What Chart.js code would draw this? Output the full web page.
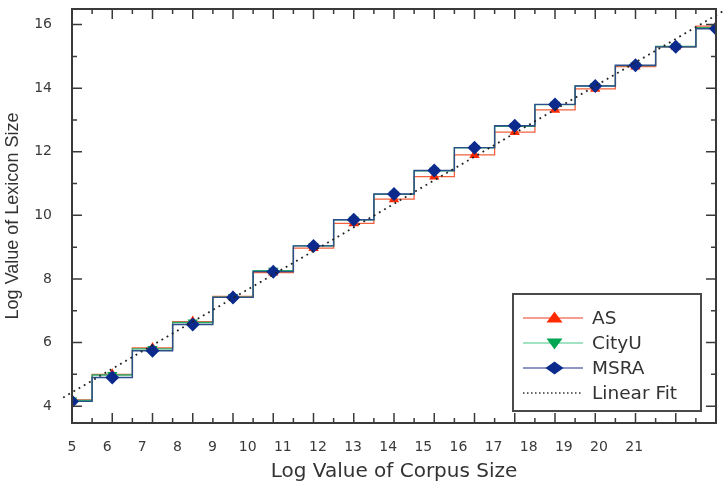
<!DOCTYPE html>
<html>
<head>
<meta charset="utf-8">
<title>Lexicon size vs corpus size</title>
<script src="https://cdn.jsdelivr.net/npm/chart.js@4.4.1/dist/chart.umd.min.js"></script>
<style>
  html, body { margin: 0; padding: 0; background: #fff; }
  #wrap { width: 727px; height: 488px; }
</style>
</head>
<body>
<div id="wrap"><canvas id="lexChart" width="727" height="488"></canvas></div>
<script>
// log corpus size (one point per step)
const corpusLog = [5, 6, 7, 8, 9, 10, 11, 12, 13, 14, 15, 16, 17, 18, 19, 20, 21];
const asValues = [4.2, 5.0, 5.83, 6.66, 7.45, 8.2, 8.97, 9.75, 10.51, 11.22, 11.9, 12.62, 13.32, 13.98, 14.68, 15.3, 15.95];
const cityuValues = [4.18, 4.98, 5.8, 6.63, 7.43, 8.26, 9.04, 9.86, 10.66, 11.4, 12.12, 12.8, 13.48, 14.07, 14.71, 15.31, 15.9];
const msraValues = [4.15, 4.9, 5.74, 6.57, 7.42, 8.23, 9.04, 9.86, 10.67, 11.41, 12.13, 12.82, 13.49, 14.07, 14.72, 15.3, 15.87];
// end points of the fitted line (it runs a little past the frame)
const fitX = [4.78, 21.24];
const fitY = [4.27, 16.47];
// tick labels as printed on the axes
const xTickLabels = [5, 6, 7, 8, 9, 10, 11, 12, 13, 14, 15, 16, 17, 18, 19, 20, 21];
const yTickLabels = [4, 6, 8, 10, 12, 14, 16];

const toPoints = (xs, ys) => xs.map((x, i) => ({ x: x, y: ys[i] }));

// draws one legend symbol by hand (stretched a bit like the original)
function drawSymbol(ctx, style, x, y, color) {
  ctx.fillStyle = color;
  ctx.beginPath();
  if (style === "up") {
    ctx.moveTo(x, y - 6.5);
    ctx.lineTo(x + 8, y + 4.5);
    ctx.lineTo(x - 8, y + 4.5);
  } else if (style === "down") {
    ctx.moveTo(x, y + 6.5);
    ctx.lineTo(x + 8, y - 4.5);
    ctx.lineTo(x - 8, y - 4.5);
  } else {
    ctx.moveTo(x, y - 6.5);
    ctx.lineTo(x + 9, y);
    ctx.lineTo(x, y + 6.5);
    ctx.lineTo(x - 9, y);
  }
  ctx.closePath();
  ctx.fill();
}

const framePlugin = {
  id: "frame",
  afterDraw(chart) {
    const { ctx, chartArea: a, scales } = chart;
    const xs = scales.x;
    const ys = scales.y;
    ctx.save();

    // box around the plot
    ctx.strokeStyle = "#3a3a3a";
    ctx.lineWidth = 2;
    ctx.strokeRect(a.left, a.top, a.right - a.left, a.bottom - a.top);

    // inward ticks on all four sides
    ctx.lineWidth = 1.5;
    ctx.beginPath();
    for (let v = corpusLog[0]; v <= corpusLog[corpusLog.length - 1] + 1e-9; v += 0.5) {
      const px = xs.getPixelForValue(v);
      const len = Number.isInteger(v) ? 10 : 5;
      ctx.moveTo(px, a.bottom);
      ctx.lineTo(px, a.bottom - len);
      ctx.moveTo(px, a.top);
      ctx.lineTo(px, a.top + len);
    }
    for (let v = yTickLabels[0]; v <= yTickLabels[yTickLabels.length - 1]; v += 1) {
      const py = ys.getPixelForValue(v);
      const len = v % 2 === 0 ? 10 : 5;
      ctx.moveTo(a.left, py);
      ctx.lineTo(a.left + len, py);
      ctx.moveTo(a.right, py);
      ctx.lineTo(a.right - len, py);
    }
    ctx.stroke();

    // legend box in the lower right corner
    const boxW = 188, boxH = 117;
    const bx = a.right - 15 - boxW;
    const by = a.bottom - 12 - boxH;
    ctx.fillStyle = "#fff";
    ctx.fillRect(bx, by, boxW, boxH);
    ctx.strokeStyle = "#4a4a4a";
    ctx.lineWidth = 2;
    ctx.strokeRect(bx, by, boxW, boxH);

    ctx.font = "18.5px 'DejaVu Sans'";
    ctx.textBaseline = "middle";
    chart.data.datasets.forEach((ds, i) => {
      const rowY = by + 24 + i * 25;
      ctx.strokeStyle = ds.legendColor;
      ctx.lineWidth = ds.borderDash.length ? 1.5 : 1.2;
      ctx.setLineDash(ds.borderDash.length ? [1.5, 2.5] : []);
      ctx.beginPath();
      ctx.moveTo(bx + 10, rowY);
      ctx.lineTo(bx + 70, rowY);
      ctx.stroke();
      ctx.setLineDash([]);
      if (ds.symbol) {
        drawSymbol(ctx, ds.symbol, bx + 41.5, rowY, ds.pointBackgroundColor);
      }
      ctx.fillStyle = "#333";
      ctx.fillText(ds.label, bx + 79, rowY + 1);
    });
    ctx.restore();
  }
};

const ctx = document.getElementById("lexChart").getContext("2d");
const lexChart = new Chart(ctx, {
  type: "line",
  data: {
    datasets: [
      {
        label: "AS",
        data: toPoints(corpusLog, asValues),
        stepped: "middle",
        borderColor: "#f2603e",
        legendColor: "#ef3b22",
        borderWidth: 1.3,
        borderDash: [],
        pointStyle: "triangle",
        pointRadius: 6,
        pointBackgroundColor: "#ff2a00",
        pointBorderWidth: 0,
        symbol: "up",
        order: 4
      },
      {
        label: "CityU",
        data: toPoints(corpusLog, cityuValues),
        stepped: "middle",
        borderColor: "#2aa866",
        legendColor: "#45c785",
        borderWidth: 1.3,
        borderDash: [],
        pointStyle: "triangle",
        pointRotation: 180,
        pointRadius: 6,
        pointBackgroundColor: "#00a651",
        pointBorderWidth: 0,
        symbol: "down",
        order: 3
      },
      {
        label: "MSRA",
        data: toPoints(corpusLog, msraValues),
        stepped: "middle",
        borderColor: "#2c4f8c",
        legendColor: "#1c2f8c",
        borderWidth: 1.4,
        borderDash: [],
        pointStyle: "rectRot",
        pointRadius: 7,
        pointBackgroundColor: "#0b2a8c",
        pointBorderWidth: 0,
        symbol: "diamond",
        order: 2
      },
      {
        label: "Linear Fit",
        data: toPoints(fitX, fitY),
        borderColor: "#222",
        legendColor: "#333",
        borderWidth: 1.8,
        borderDash: [1.8, 4.2],
        pointRadius: 0,
        clip: false,
        order: 1
      }
    ]
  },
  options: {
    responsive: false,
    animation: false,
    devicePixelRatio: 1,
    layout: { padding: { top: 9, right: 11, left: 0, bottom: 0 } },
    plugins: {
      legend: { display: false },
      tooltip: { enabled: false }
    },
    scales: {
      x: {
        type: "linear",
        display: false,
        min: corpusLog[0],
        max: corpusLog[corpusLog.length - 1]
      },
      // the printed labels sit on their own, tighter spacing
      xl: {
        type: "linear",
        position: "bottom",
        min: xTickLabels[0],
        max: 23.33,
        grid: { display: false },
        border: { display: false },
        afterBuildTicks: (scale) => {
          scale.ticks = xTickLabels.map((v) => ({ value: v }));
        },
        ticks: {
          autoSkip: false,
          maxRotation: 0,
          padding: 8,
          color: "#3a3a3a",
          font: { family: "'DejaVu Sans'", size: 14 }
        },
        title: {
          display: true,
          text: "Log Value of Corpus Size",
          color: "#333",
          font: { family: "'DejaVu Sans'", size: 20 },
          padding: { top: 0, bottom: 4 }
        },
        afterFit: (scale) => {
          scale.height = 65;
          scale.paddingLeft = 0;
          scale.paddingRight = 0;
        }
      },
      y: {
        type: "linear",
        min: 3.47,
        max: 16.49,
        grid: { display: false },
        border: { display: false },
        afterBuildTicks: (scale) => {
          scale.ticks = yTickLabels.map((v) => ({ value: v }));
        },
        ticks: {
          autoSkip: false,
          padding: 12,
          color: "#3a3a3a",
          font: { family: "'DejaVu Sans'", size: 14 }
        },
        title: {
          display: true,
          text: "Log Value of Lexicon Size",
          color: "#333",
          font: { family: "'Liberation Sans'", size: 18 },
          padding: { top: 2, bottom: 0 }
        },
        afterFit: (scale) => {
          scale.width = 72;
          scale.paddingTop = 0;
          scale.paddingBottom = 0;
        }
      }
    }
  },
  plugins: [framePlugin]
});
</script>
</body>
</html>
